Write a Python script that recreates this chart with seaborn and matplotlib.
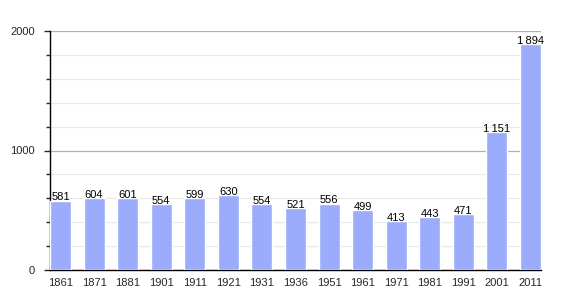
import matplotlib
matplotlib.use("Agg")
import matplotlib.pyplot as plt
import seaborn as sns
import pandas as pd
from matplotlib.ticker import MultipleLocator

years = ["1861", "1871", "1881", "1901", "1911", "1921", "1931", "1936", "1951",
         "1961", "1971", "1981", "1991", "2001", "2011"]
population = [581, 604, 601, 554, 599, 630, 554, 521, 556, 499, 413, 443, 471, 1151, 1894]
labels = ["581", "604", "601", "554", "599", "630", "554", "521", "556", "499",
          "413", "443", "471", "1\u2009151", "1\u2009894"]

df = pd.DataFrame({"year": years, "pop": population})

sns.set_style("white")
plt.rcParams["font.family"] = ["Liberation Sans", "DejaVu Sans"]

fig = plt.figure(figsize=(5.7, 3.0), dpi=100)
ax = fig.add_axes([50 / 570, 30 / 300, 491 / 570, 239 / 300])

bw = 0.625
sns.barplot(data=df, x="year", y="pop", color="#9aacfb", saturation=1,
            width=bw, ax=ax, zorder=3)

ax.set_ylim(0, 2000)
ax.set_xlim(-bw / 2, len(years) - 1 + bw / 2)
ax.yaxis.set_major_locator(MultipleLocator(1000))
ax.yaxis.set_minor_locator(MultipleLocator(200))
ax.grid(axis="y", which="minor", color="#e8e8e8", linewidth=0.9, zorder=0)
ax.grid(axis="y", which="major", color="#b0b0b0", linewidth=0.9, zorder=1)
ax.set_axisbelow(True)

for s in ["top", "right"]:
    ax.spines[s].set_visible(False)
ax.spines["left"].set_color("black")
ax.spines["bottom"].set_color("black")
ax.spines["left"].set_linewidth(1.0)
ax.spines["bottom"].set_linewidth(1.0)

ax.tick_params(axis="y", which="major", left=True, length=4, width=1, labelsize=8, pad=7)
ax.tick_params(axis="y", which="minor", left=True, length=3, width=1)
ax.tick_params(axis="x", bottom=False, labelsize=8, pad=2)
ax.set_xlabel("")
ax.set_ylabel("")

for i, (v, lab) in enumerate(zip(population, labels)):
    ax.text(i, v - 16, lab, ha="center", va="bottom", fontsize=8, color="black", zorder=4)

fig.savefig("out.png", dpi=100)
